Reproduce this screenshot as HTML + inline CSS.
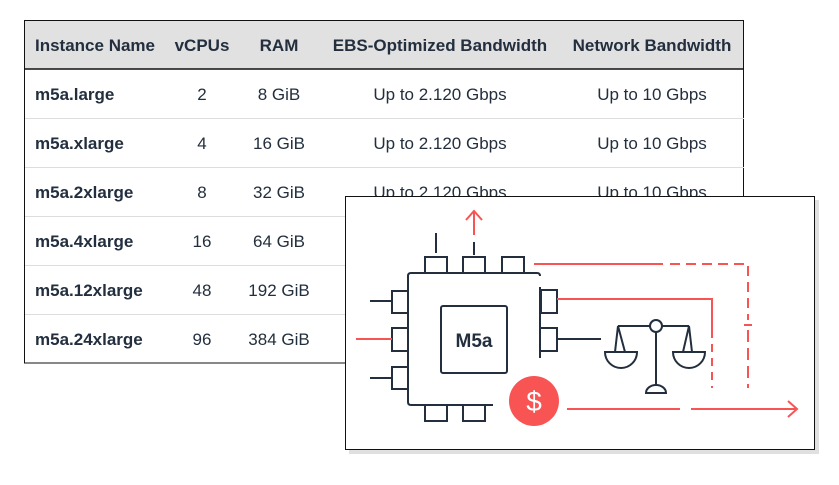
<!DOCTYPE html>
<html><head><style>
html,body{margin:0;padding:0;background:#fff;width:839px;height:485px;overflow:hidden}
svg{display:block}
text{font-family:"Liberation Sans",sans-serif;font-size:17px;fill:#232f3e}
.h{font-weight:bold}
.b{font-weight:bold}
</style></head><body>
<svg width="839" height="485" viewBox="0 0 839 485" xmlns="http://www.w3.org/2000/svg">
<rect x="24" y="20" width="720" height="49" fill="#e1e1e1"/>
<rect x="24.5" y="20.5" width="719" height="342.5" fill="none" stroke="#111" stroke-width="1"/>
<line x1="24" y1="69" x2="744" y2="69" stroke="#111" stroke-width="1.5"/>
<g stroke="#ddd" stroke-width="1">
<line x1="25" y1="118.5" x2="744" y2="118.5"/><line x1="25" y1="167.5" x2="744" y2="167.5"/>
<line x1="25" y1="216.5" x2="744" y2="216.5"/><line x1="25" y1="265.5" x2="744" y2="265.5"/>
<line x1="25" y1="314.5" x2="744" y2="314.5"/>
</g>
<g class="h">
<text x="35" y="51" class="h">Instance Name</text>
<text x="202" y="51" class="h" text-anchor="middle">vCPUs</text>
<text x="279" y="51" class="h" text-anchor="middle">RAM</text>
<text x="440" y="51" class="h" text-anchor="middle">EBS-Optimized Bandwidth</text>
<text x="652" y="51" class="h" text-anchor="middle">Network Bandwidth</text>
</g>
<g>
<text x="35" y="100" class="b">m5a.large</text><text x="202" y="100" text-anchor="middle">2</text><text x="279" y="100" text-anchor="middle">8 GiB</text><text x="440" y="100" text-anchor="middle">Up to 2.120 Gbps</text><text x="652" y="100" text-anchor="middle">Up to 10 Gbps</text>
<text x="35" y="149" class="b">m5a.xlarge</text><text x="202" y="149" text-anchor="middle">4</text><text x="279" y="149" text-anchor="middle">16 GiB</text><text x="440" y="149" text-anchor="middle">Up to 2.120 Gbps</text><text x="652" y="149" text-anchor="middle">Up to 10 Gbps</text>
<text x="35" y="198" class="b">m5a.2xlarge</text><text x="202" y="198" text-anchor="middle">8</text><text x="279" y="198" text-anchor="middle">32 GiB</text><text x="440" y="198" text-anchor="middle">Up to 2.120 Gbps</text><text x="652" y="198" text-anchor="middle">Up to 10 Gbps</text>
<text x="35" y="247" class="b">m5a.4xlarge</text><text x="202" y="247" text-anchor="middle">16</text><text x="279" y="247" text-anchor="middle">64 GiB</text>
<text x="35" y="296" class="b">m5a.12xlarge</text><text x="202" y="296" text-anchor="middle">48</text><text x="279" y="296" text-anchor="middle">192 GiB</text>
<text x="35" y="345" class="b">m5a.24xlarge</text><text x="202" y="345" text-anchor="middle">96</text><text x="279" y="345" text-anchor="middle">384 GiB</text>
</g>
<!-- overlay -->
<rect x="349" y="200" width="470" height="254" fill="#ccc" opacity="0.6"/>
<rect x="345.5" y="196.5" width="469" height="253" fill="#fff" stroke="#111" stroke-width="1"/>
<g fill="none" stroke="#232f3e" stroke-width="2">
<path d="M540 287 V358 M540 276 Q540 273 537 273 H411 Q408 273 408 276 V402 Q408 405 411 405 H493"/>
<rect x="441" y="306" width="66" height="67" rx="2"/>
<path d="M425 273 V257 H447 V273"/>
<rect x="463" y="257" width="22" height="16"/>
<rect x="502" y="257" width="22" height="16"/>
<line x1="436" y1="233" x2="436" y2="253"/>
<line x1="474" y1="242" x2="474" y2="255"/>
<rect x="392" y="291" width="16" height="22"/>
<path d="M408 328 H392 V351 H408"/>
<rect x="392" y="367" width="16" height="22"/>
<line x1="370" y1="301" x2="392" y2="301"/>
<line x1="370" y1="378" x2="392" y2="378"/>
<rect x="541" y="290" width="16" height="23"/>
<path d="M541 328 H557 V351 H541"/>
<line x1="557" y1="339" x2="601" y2="339"/>
<rect x="425" y="405" width="22" height="16"/>
<rect x="463" y="405" width="22" height="16"/>
<line x1="618" y1="326" x2="689" y2="326"/>
<line x1="656" y1="332" x2="656" y2="385"/>
<path d="M646 393 A10 8 0 0 1 666 393 Z"/>
<path d="M605 352 A16 16 0 0 0 637 352 Z"/>
<path d="M673 352 A16 16 0 0 0 705 352 Z"/>
<path d="M615 352 L618 326 L625 352 M683 352 L689 326 L692 352"/>
</g>
<circle cx="656" cy="326" r="6" fill="#fff" stroke="#232f3e" stroke-width="2"/>
<text x="474" y="347" text-anchor="middle" style="font-weight:bold;font-size:19px">M5a</text>
<g fill="none" stroke="#f85454" stroke-width="2">
<path d="M474 235 V212 M466 220 L474 211 L482 220"/>
<line x1="356" y1="339" x2="392" y2="339"/>
<path d="M557 299 H712 V330"/>
<path d="M712 330 V388" stroke-dasharray="8 6"/>
<path d="M534 264 H663"/>
<path d="M670 264 H748 V320" stroke-dasharray="10 6"/>
<line x1="744" y1="325" x2="752" y2="325"/>
<path d="M748 330 V388" stroke-dasharray="12 6"/>
<path d="M567 409 H680 M691 409 H797 M788 401 L797 409 L788 417"/>
</g>
<circle cx="534" cy="401" r="25" fill="#f85454"/>
<text x="534" y="411" text-anchor="middle" style="fill:#fff;font-size:28px">$</text>
</svg>
</body></html>
